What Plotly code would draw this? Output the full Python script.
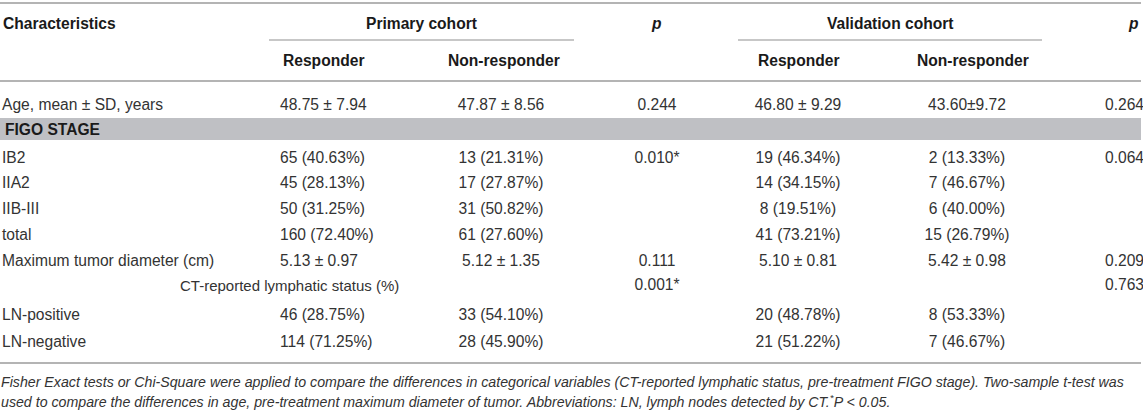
import plotly.graph_objects as go

# table content, one list per column
characteristics = ["Age, mean \u00b1 SD, years", "FIGO STAGE", "IB2", "IIA2", "IIB-III", "total",
                   "Maximum tumor diameter (cm)", "", "LN-positive", "LN-negative"]
primary_responder = ["48.75 \u00b1 7.94", "", "65 (40.63%)", "45 (28.13%)", "50 (31.25%)", "160 (72.40%)",
                     "5.13 \u00b1 0.97", "", "46 (28.75%)", "114 (71.25%)"]
primary_nonresponder = ["47.87 \u00b1 8.56", "", "13 (21.31%)", "17 (27.87%)", "31 (50.82%)", "61 (27.60%)",
                        "5.12 \u00b1 1.35", "", "33 (54.10%)", "28 (45.90%)"]
primary_p = ["0.244", "", "0.010*", "", "", "", "0.111", "0.001*", "", ""]
validation_responder = ["46.80 \u00b1 9.29", "", "19 (46.34%)", "14 (34.15%)", "8 (19.51%)", "41 (73.21%)",
                        "5.10 \u00b1 0.81", "", "20 (48.78%)", "21 (51.22%)"]
validation_nonresponder = ["43.60\u00b19.72", "", "2 (13.33%)", "7 (46.67%)", "6 (40.00%)", "15 (26.79%)",
                           "5.42 \u00b1 0.98", "", "8 (53.33%)", "7 (46.67%)"]
validation_p = ["0.264", "", "0.064", "", "", "", "0.209", "0.763", "", ""]
subheading = "CT-reported lymphatic status (%)"

group_headers = ["Primary cohort", "Validation cohort"]
sub_headers = ["Responder", "Non-responder", "Responder", "Non-responder"]

footnote_1 = ("Fisher Exact tests or Chi-Square were applied to compare the differences in categorical variables "
              "(CT-reported lymphatic status, pre-treatment FIGO stage). Two-sample t-test was")
footnote_2 = ("used to compare the differences in age, pre-treatment maximum diameter of tumor. "
              "Abbreviations: LN, lymph nodes detected by CT.<sup>*</sup>P &lt; 0.05.")

# layout (pixel space)
W, H = 1143, 410
row_y = [106, 131, 159, 184, 210, 236, 262, 286, 316, 343]
FONT = "Liberation Sans, Arial, sans-serif"
FS = 15.6
TXT = "#333333"
HEAD = "#1a1a1a"
RULE = "#b4b4b4"

fig = go.Figure()


def add_col(texts, x, pos, color=TXT, size=FS):
    fig.add_trace(go.Scatter(
        x=[x] * len(texts), y=row_y, text=texts, mode="text",
        textposition=pos, textfont=dict(family=FONT, size=size, color=color),
        hoverinfo="skip", showlegend=False,
    ))


# gray band behind FIGO STAGE
fig.add_shape(type="rect", x0=0, x1=1141, y0=118, y1=140, fillcolor="#bfc0c4", line_width=0, layer="below")

add_col([c if c != "FIGO STAGE" else "" for c in characteristics], 2, "middle right")
fig.add_annotation(x=3, y=129, text="<b>FIGO STAGE</b>", showarrow=False, xanchor="left",
                   font=dict(family=FONT, size=FS, color=HEAD))
add_col(primary_responder, 280, "middle right")
add_col(primary_nonresponder, 501, "middle center")
add_col(primary_p, 657, "middle center")
add_col(validation_responder, 798, "middle center")
add_col(validation_nonresponder, 967, "middle center")
add_col(validation_p, 1144, "middle left")
fig.add_annotation(x=289, y=285, text=subheading, showarrow=False, xanchor="center",
                   font=dict(family=FONT, size=15, color=TXT))

# header text
hfont = dict(family=FONT, size=FS, color=HEAD)
fig.add_annotation(x=1, y=23, text="<b>Characteristics</b>", showarrow=False, xanchor="left", font=hfont)
fig.add_annotation(x=421, y=23, text="<b>" + group_headers[0] + "</b>", showarrow=False, font=hfont)
fig.add_annotation(x=890, y=23, text="<b>" + group_headers[1] + "</b>", showarrow=False, font=hfont)
fig.add_annotation(x=656, y=23, text="<b><i>p</i></b>", showarrow=False, font=hfont)
fig.add_annotation(x=1141, y=23, text="<b><i>p</i></b>", showarrow=False, xanchor="right", font=hfont)
for x, t in zip([323, 504, 798, 973], sub_headers):
    fig.add_annotation(x=x, y=60, text="<b>" + t + "</b>", showarrow=False, font=hfont)

# rules
for y0 in [3, 81, 363]:
    fig.add_shape(type="line", x0=0, x1=1141, y0=y0, y1=y0, line=dict(color=RULE, width=2))
fig.add_shape(type="line", x0=269, x1=574, y0=40, y1=40, line=dict(color=RULE, width=1.5))
fig.add_shape(type="line", x0=738, x1=1042, y0=40, y1=40, line=dict(color=RULE, width=1.5))

# footnote
ffont = dict(family=FONT, size=14.2, color=TXT)
fig.add_annotation(x=0, y=382, xshift=-1, text="<i>" + footnote_1 + "</i>", showarrow=False,
                   xanchor="left", font=ffont)
fig.add_annotation(x=0, y=401, xshift=-1, text="<i>" + footnote_2 + "</i>", showarrow=False,
                   xanchor="left", font=ffont)

fig.update_xaxes(range=[0, W], visible=False, fixedrange=True)
fig.update_yaxes(range=[H, 0], visible=False, fixedrange=True)
fig.update_layout(width=W, height=H, margin=dict(l=0, r=0, t=0, b=0),
                  paper_bgcolor="white", plot_bgcolor="white")

fig.write_html("out.html", config={"displayModeBar": False},
               post_script="document.body.style.margin='0';")
